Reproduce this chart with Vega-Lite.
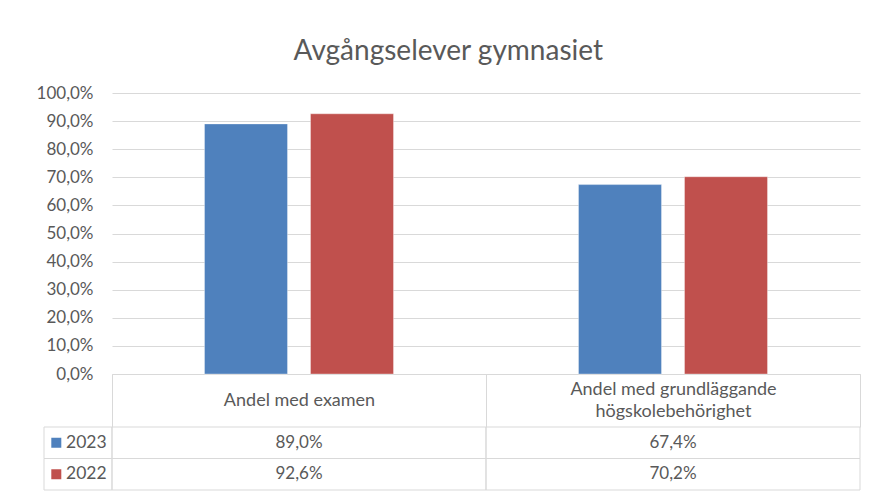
{
  "$schema": "https://vega.github.io/schema/vega-lite/v6.json",
  "padding": {"left": 36, "top": 38, "right": 15, "bottom": 3},
  "config": {
    "locale": {"number": {"decimal": ",", "thousands": " ", "grouping": [3], "currency": ["", " kr"]}},
    "view": {"stroke": null},
    "font": "Lato"
  },
  "title": {"text": "Avgångselever gymnasiet", "fontSize": 28, "font": "Lato", "fontWeight": "normal", "color": "#595959", "anchor": "middle", "frame": "bounds", "offset": 18},
  "datasets": {
    "main": [
      {"kategori": "Andel med examen", "år": "2023", "andel": 0.89},
      {"kategori": "Andel med examen", "år": "2022", "andel": 0.926},
      {"kategori": "Andel med grundläggande högskolebehörighet", "år": "2023", "andel": 0.674},
      {"kategori": "Andel med grundläggande högskolebehörighet", "år": "2022", "andel": 0.702}
    ],
    "years": [{"år": "2023"}, {"år": "2022"}]
  },
  "spacing": 334,
  "bounds": "flush",
  "vconcat": [
    {
      "spacing": 0,
      "bounds": "flush",
      "hconcat": [
        {"width": 68, "height": 281, "data": {"values": []}, "mark": "rect", "encoding": {}},
        {
          "width": 748,
          "height": 281,
          "data": {"name": "main"},
          "mark": {"type": "bar", "stroke": "#FFFFFF", "strokeOpacity": 0.35, "strokeWidth": 1},
          "encoding": {
            "x": {
              "field": "kategori", "type": "nominal",
              "sort": ["Andel med examen", "Andel med grundläggande högskolebehörighet"],
              "scale": {"paddingInner": 0, "paddingOuter": 0},
              "axis": {
                "title": null, "labelAngle": 0, "tickBand": "extent", "tickSize": 53,
                "tickColor": "#D9D9D9", "domainColor": "#D9D9D9",
                "labelPadding": {"condition": {"test": "datum.value == 'Andel med examen'", "value": -26.5}, "value": -38},
                "labelBaseline": "middle", "labelFontSize": 18, "labelColor": "#595959",
                "labelLimit": 400, "labelLineHeight": 22,
                "labelExpr": "datum.label == 'Andel med grundläggande högskolebehörighet' ? ['Andel med grundläggande', 'högskolebehörighet'] : datum.label"
              }
            },
            "xOffset": {
              "field": "år", "type": "nominal", "sort": ["2023", "2022"],
              "scale": {"paddingInner": 0.217, "paddingOuter": 0.8726}
            },
            "y": {
              "field": "andel", "type": "quantitative",
              "scale": {"domain": [0, 1]},
              "axis": {
                "title": null, "format": ".1%",
                "values": [0, 0.1, 0.2, 0.3, 0.4, 0.5, 0.6, 0.7, 0.8, 0.9, 1],
                "ticks": false, "tickSize": 0, "domain": false, "gridColor": "#D9D9D9",
                "labelPadding": 19, "labelFontSize": 17, "labelColor": "#595959"
              }
            },
            "color": {
              "field": "år", "type": "nominal",
              "scale": {"domain": ["2023", "2022"], "range": ["#4F81BD", "#C0504D"]},
              "legend": null
            }
          }
        }
      ]
    },
    {
      "spacing": 0,
      "bounds": "flush",
      "hconcat": [
        {
          "width": 68,
          "height": 63,
          "data": {"name": "years"},
          "encoding": {
            "y": {"field": "år", "type": "nominal", "sort": ["2023", "2022"], "scale": {"paddingInner": 0, "paddingOuter": 0}, "axis": null}
          },
          "layer": [
            {"mark": {"type": "rect", "fill": "transparent", "stroke": "#D9D9D9", "strokeWidth": 1}, "encoding": {}},
            {
              "mark": {"type": "square", "size": 100, "opacity": 1, "xOffset": -21.7},
              "encoding": {
                "color": {
                  "field": "år", "type": "nominal",
                  "scale": {"domain": ["2023", "2022"], "range": ["#4F81BD", "#C0504D"]},
                  "legend": null
                }
              }
            },
            {
              "mark": {"type": "text", "align": "left", "xOffset": -12, "fontSize": 17.5, "color": "#595959"},
              "encoding": {"text": {"field": "år", "type": "nominal"}}
            }
          ]
        },
        {
          "width": 748,
          "height": 63,
          "data": {"name": "main"},
          "encoding": {
            "x": {
              "field": "kategori", "type": "nominal",
              "sort": ["Andel med examen", "Andel med grundläggande högskolebehörighet"],
              "scale": {"paddingInner": 0, "paddingOuter": 0}, "axis": null
            },
            "y": {"field": "år", "type": "nominal", "sort": ["2023", "2022"], "scale": {"paddingInner": 0, "paddingOuter": 0}, "axis": null}
          },
          "layer": [
            {"mark": {"type": "rect", "fill": "transparent", "stroke": "#D9D9D9", "strokeWidth": 1}, "encoding": {}},
            {
              "mark": {"type": "text", "fontSize": 17, "color": "#595959"},
              "encoding": {"text": {"field": "andel", "type": "quantitative", "format": ".1%"}}
            }
          ]
        }
      ]
    }
  ]
}
